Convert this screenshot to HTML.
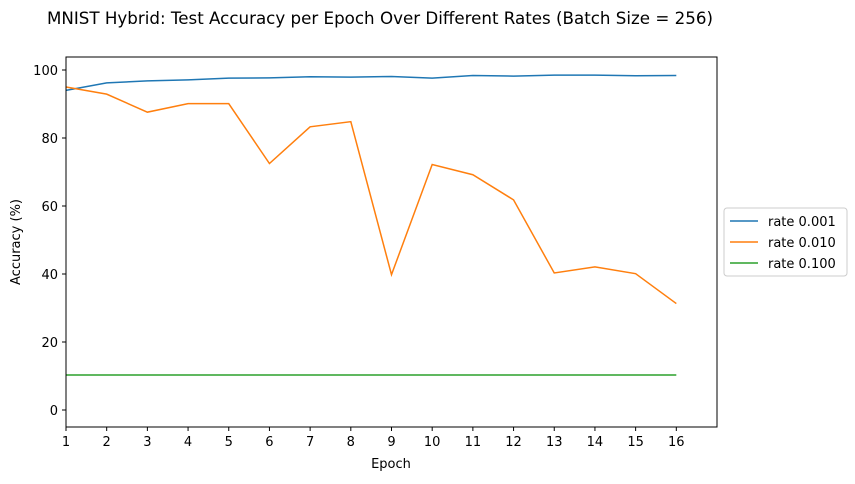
<!DOCTYPE html>
<html><head><meta charset="utf-8"><style>
body{margin:0;background:#fff;font-family:"DejaVu Sans","Liberation Sans",sans-serif;}
svg text{font-family:"DejaVu Sans","Liberation Sans",sans-serif;}
</style></head><body>
<svg id="chart" width="855" height="480" xmlns="http://www.w3.org/2000/svg">
<text x="380" y="24" font-size="16.5" text-anchor="middle" textLength="666" lengthAdjust="spacingAndGlyphs">MNIST Hybrid: Test Accuracy per Epoch Over Different Rates (Batch Size = 256)</text>
<g id="plot"></g>
<rect x="66" y="57" width="651" height="370" fill="none" stroke="#000" stroke-width="1"/>
<text x="391" y="468" font-size="13" text-anchor="middle">Epoch</text>
<text x="20" y="242" font-size="13" text-anchor="middle" transform="rotate(-90 20 242)">Accuracy (%)</text>
<g>
<rect x="724" y="208" width="123" height="68" rx="3" fill="#fff" stroke="#ccc"/>
<line x1="730" y1="221" x2="758" y2="221" stroke="#1f77b4" stroke-width="1.5"/>
<text x="768" y="226" font-size="13">rate 0.001</text>
<line x1="730" y1="242" x2="758" y2="242" stroke="#ff7f0e" stroke-width="1.5"/>
<text x="768" y="247" font-size="13">rate 0.010</text>
<line x1="730" y1="263" x2="758" y2="263" stroke="#2ca02c" stroke-width="1.5"/>
<text x="768" y="268" font-size="13">rate 0.100</text>
</g>
</svg>
<script>
const epochs=[1,2,3,4,5,6,7,8,9,10,11,12,13,14,15,16];
const rate001=[94,96.2,96.8,97.1,97.6,97.7,98,97.9,98.1,97.6,98.4,98.2,98.5,98.5,98.3,98.4];
const rate010=[95,92.9,87.6,90.1,90.1,72.5,83.3,84.8,39.8,72.2,69.2,61.8,40.3,42.1,40.1,31.3];
const rate100=[10.3,10.3,10.3,10.3,10.3,10.3,10.3,10.3,10.3,10.3,10.3,10.3,10.3,10.3,10.3,10.3];
const yTicks=[0,20,40,60,80,100];
const NS="http://www.w3.org/2000/svg";
const X=v=>66+(v-1)*(651/16);
const Y=v=>410-v*3.4;
const g=document.getElementById('plot');
function mk(t,a){const e=document.createElementNS(NS,t);for(const k in a)e.setAttribute(k,a[k]);g.appendChild(e);return e;}
epochs.forEach(e=>{
 const l=mk('line',{x1:X(e),x2:X(e),y1:427,y2:431,stroke:'#000'});
 
 
 const t=mk('text',{x:X(e),y:446,'font-size':13,'text-anchor':'middle'});t.textContent=e;
 
 
});
yTicks.forEach(v=>{
 const l=mk('line',{x1:62,x2:66,y1:Y(v),y2:Y(v),stroke:'#000'});
 
 
 const t=mk('text',{x:58,y:Y(v)+5,'font-size':13,'text-anchor':'end'});t.textContent=v;
 
 
});
[[rate001,'#1f77b4','line-rate-0.001'],[rate010,'#ff7f0e','line-rate-0.010'],[rate100,'#2ca02c','line-rate-0.100']].forEach(([d,c,n])=>{
 const p=mk('polyline',{points:d.map((v,i)=>X(epochs[i])+','+Y(v)).join(' '),fill:'none',stroke:c,'stroke-width':1.5});
 
 
});
</script>
</body></html>
